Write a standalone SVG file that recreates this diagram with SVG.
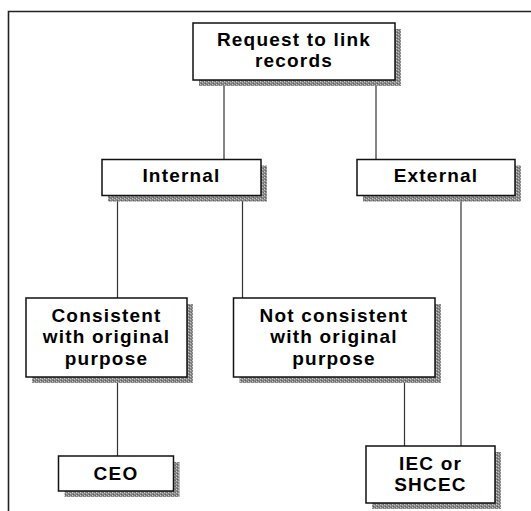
<svg xmlns="http://www.w3.org/2000/svg" width="531" height="511" viewBox="0 0 531 511">
  <style>
    .box { fill: #ffffff; stroke: #111; stroke-width: 1.5; }
    .shadow { fill: url(#stip); }
    .lbl { font-family: "Liberation Sans", Arial, sans-serif; font-weight: bold; font-size: 19px; letter-spacing: 1.2px; text-anchor: middle; fill: #000; }
    .conn line { stroke: #333; stroke-width: 1.2; }
    .frame { stroke: #222; stroke-width: 1.6; fill: none; }
  </style>
  <defs>
    <pattern id="stip" width="4" height="3" patternUnits="userSpaceOnUse">
      <rect width="4" height="3" fill="#8a8a8a"/>
      <rect x="0" y="0" width="1" height="1" fill="#cfcfcf"/>
      <rect x="2" y="1" width="1" height="1" fill="#c0c0c0"/>
      <rect x="1" y="2" width="1" height="1" fill="#5e5e5e"/>
      <rect x="3" y="0" width="1" height="1" fill="#6a6a6a"/>
    </pattern>
  </defs>
  <rect width="531" height="511" fill="#fff"/>
  <path class="frame" d="M531 11.5 H8.5 V511"/>
  <g class="conn">
    <line x1="224" y1="80" x2="224" y2="159.5"/>
    <line x1="376" y1="80" x2="376" y2="159.5"/>
    <line x1="117.5" y1="196" x2="117.5" y2="298"/>
    <line x1="242.5" y1="196" x2="242.5" y2="298"/>
    <line x1="461" y1="196" x2="461" y2="446"/>
    <line x1="117.5" y1="377" x2="117.5" y2="456"/>
    <line x1="404.5" y1="377" x2="404.5" y2="446"/>
  </g>
  <g id="request">
    <rect class="shadow" x="199" y="29" width="202" height="57"/>
    <rect class="box" x="193" y="23" width="202" height="57"/>
    <text class="lbl" x="294" y="45.5">Request to link</text>
    <text class="lbl" x="294" y="67">records</text>
  </g>
  <g id="internal">
    <rect class="shadow" x="108" y="165.5" width="159" height="36"/>
    <rect class="box" x="102" y="159.5" width="159" height="36"/>
    <text class="lbl" x="181.5" y="181.5">Internal</text>
  </g>
  <g id="external">
    <rect class="shadow" x="363" y="165.5" width="158" height="36"/>
    <rect class="box" x="357" y="159.5" width="158" height="36"/>
    <text class="lbl" x="436" y="181.5">External</text>
  </g>
  <g id="consistent">
    <rect class="shadow" x="32" y="304" width="161" height="79"/>
    <rect class="box" x="26" y="298" width="161" height="79"/>
    <text class="lbl" x="106.5" y="321.5">Consistent</text>
    <text class="lbl" x="106.5" y="343">with original</text>
    <text class="lbl" x="106.5" y="364.5">purpose</text>
  </g>
  <g id="not-consistent">
    <rect class="shadow" x="239.5" y="304" width="201.5" height="79"/>
    <rect class="box" x="233.5" y="298" width="201.5" height="79"/>
    <text class="lbl" x="334" y="321.5">Not consistent</text>
    <text class="lbl" x="334" y="343">with original</text>
    <text class="lbl" x="334" y="364.5">purpose</text>
  </g>
  <g id="ceo">
    <rect class="shadow" x="64.5" y="462" width="115" height="35"/>
    <rect class="box" x="58.5" y="456" width="115" height="35"/>
    <text class="lbl" x="116" y="479.5">CEO</text>
  </g>
  <g id="iec">
    <rect class="shadow" x="372" y="452" width="129" height="57"/>
    <rect class="box" x="366" y="446" width="129" height="57"/>
    <text class="lbl" x="430.5" y="469.5">IEC or</text>
    <text class="lbl" x="430.5" y="491">SHCEC</text>
  </g>
</svg>
